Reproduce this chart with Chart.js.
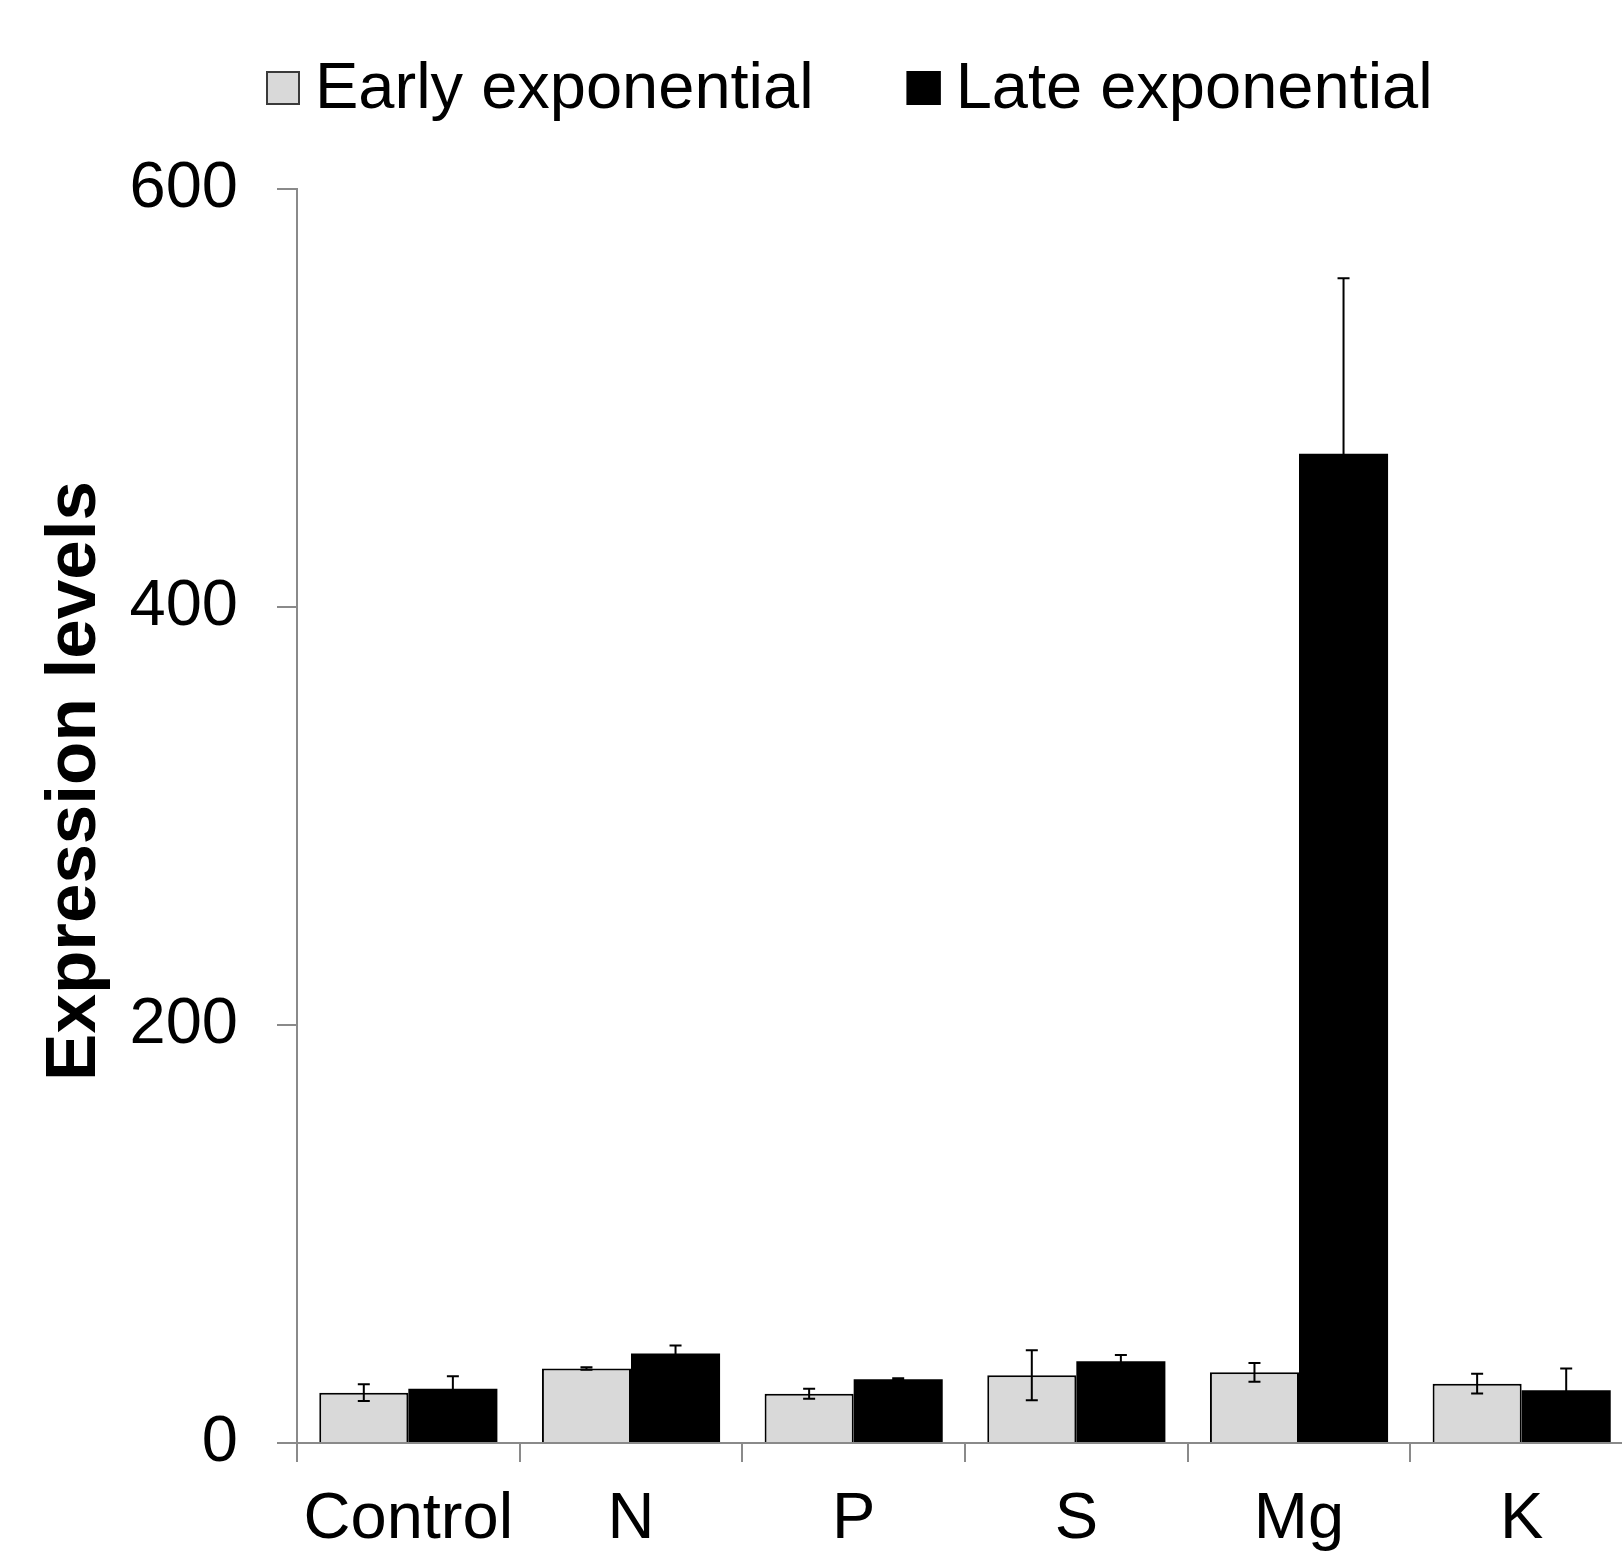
<!DOCTYPE html>
<html lang="en">
<head>
  <meta charset="UTF-8">
  <title>Expression levels</title>
  <script src="https://cdn.jsdelivr.net/npm/chart.js"></script>
  <style>
    html, body {
      margin: 0;
      padding: 0;
      overflow: hidden;
      background: #fff;
    }

    canvas {
      display: block;
    }
  </style>
</head>
<body>

<canvas id="barChart" width="1633" height="1559"></canvas>

<script>
  // Data
  const categories = ['Control', 'N', 'P', 'S', 'Mg', 'K'];
  const earlyValues = [24.1, 35.6, 23.6, 32.4, 33.8, 28.4];
  const lateValues = [25.9, 42.8, 30.5, 39.1, 473.3, 25.2];
  const earlyErrors = [4, 0.6, 2.4, 12, 4.5, 4.7];
  const lateErrors = [6, 3.8, 0.5, 3, 84, 10.4];
  const yTicks = [0, 200, 400, 600];

  const errorSets = [earlyErrors, lateErrors];
  const axisGray = '#8a8a8a';
  const fontFamily = '"Liberation Sans", Arial, sans-serif';

  // error bars, drawn from the y scale
  const errorBarPlugin = {
    id: 'errorBars',
    afterDatasetsDraw(chart) {
      const ctx = chart.ctx;
      const yScale = chart.scales.y;
      ctx.save();
      ctx.strokeStyle = '#000';
      ctx.lineWidth = 2;
      chart.data.datasets.forEach((ds, di) => {
        const meta = chart.getDatasetMeta(di);
        meta.data.forEach((bar, i) => {
          const v = ds.data[i];
          const e = errorSets[di][i];
          const top = yScale.getPixelForValue(v + e);
          const bottom = yScale.getPixelForValue(v - e);
          ctx.beginPath();
          ctx.moveTo(bar.x, top);
          ctx.lineTo(bar.x, bottom);
          ctx.moveTo(bar.x - 6, top);
          ctx.lineTo(bar.x + 6, top);
          ctx.moveTo(bar.x - 6, bottom);
          ctx.lineTo(bar.x + 6, bottom);
          ctx.stroke();
        });
      });
      ctx.restore();
    }
  };

  // legend on top + rotated y title
  const labelsPlugin = {
    id: 'labels',
    afterDraw(chart) {
      const ctx = chart.ctx;
      ctx.save();
      ctx.font = '65px ' + fontFamily;
      ctx.textBaseline = 'alphabetic';
      ctx.textAlign = 'left';
      let x = 266;
      chart.data.datasets.forEach(ds => {
        ctx.fillStyle = ds.backgroundColor;
        ctx.fillRect(x, 71, 34, 34);
        ctx.lineWidth = 2;
        ctx.strokeStyle = ds.legendBorder;
        ctx.strokeRect(x + 1, 72, 32, 32);
        ctx.fillStyle = '#000';
        ctx.fillText(ds.label, x + 49, 108);
        x += 49 + ctx.measureText(ds.label).width + 93;
      });

      ctx.translate(95, 781);
      ctx.rotate(-Math.PI / 2);
      ctx.font = 'bold 71px ' + fontFamily;
      ctx.textAlign = 'center';
      ctx.fillText('Expression levels', 0, 0);
      ctx.restore();
    }
  };

  const ctx = document.getElementById('barChart').getContext('2d');
  const chart = new Chart(ctx, {
    type: 'bar',
    data: {
      labels: categories,
      datasets: [{
        label: 'Early exponential',
        data: earlyValues,
        backgroundColor: '#d9d9d9',
        borderColor: '#000',
        borderWidth: 2,
        legendBorder: '#3a3a3a',
        categoryPercentage: 0.8,
        barPercentage: 1.0
      }, {
        label: 'Late exponential',
        data: lateValues,
        backgroundColor: '#000',
        borderWidth: 0,
        legendBorder: '#000',
        categoryPercentage: 0.8,
        barPercentage: 1.0
      }]
    },
    options: {
      responsive: false,
      animation: false,
      devicePixelRatio: 1,
      layout: {
        padding: { top: 189, left: 0, right: 0, bottom: 0 }
      },
      plugins: {
        legend: { display: false },
        tooltip: { enabled: false }
      },
      scales: {
        x: {
          grid: {
            offset: true,
            drawOnChartArea: false,
            tickLength: 19,
            color: axisGray,
            lineWidth: 2
          },
          border: { color: axisGray, width: 2 },
          ticks: {
            color: '#000',
            padding: 19,
            font: { family: fontFamily, size: 65 }
          },
          afterFit(scale) { scale.height = 116; }
        },
        y: {
          min: 0,
          max: 600,
          grid: {
            drawOnChartArea: false,
            tickLength: 20,
            color: axisGray,
            lineWidth: 2
          },
          border: { color: axisGray, width: 2 },
          ticks: {
            color: '#000',
            padding: 39,
            font: { family: fontFamily, size: 65 }
          },
          afterBuildTicks(scale) {
            scale.ticks = yTicks.map(v => ({ value: v }));
          },
          afterFit(scale) { scale.width = 297; }
        }
      }
    },
    plugins: [errorBarPlugin, labelsPlugin]
  });
</script>

</body>
</html>
